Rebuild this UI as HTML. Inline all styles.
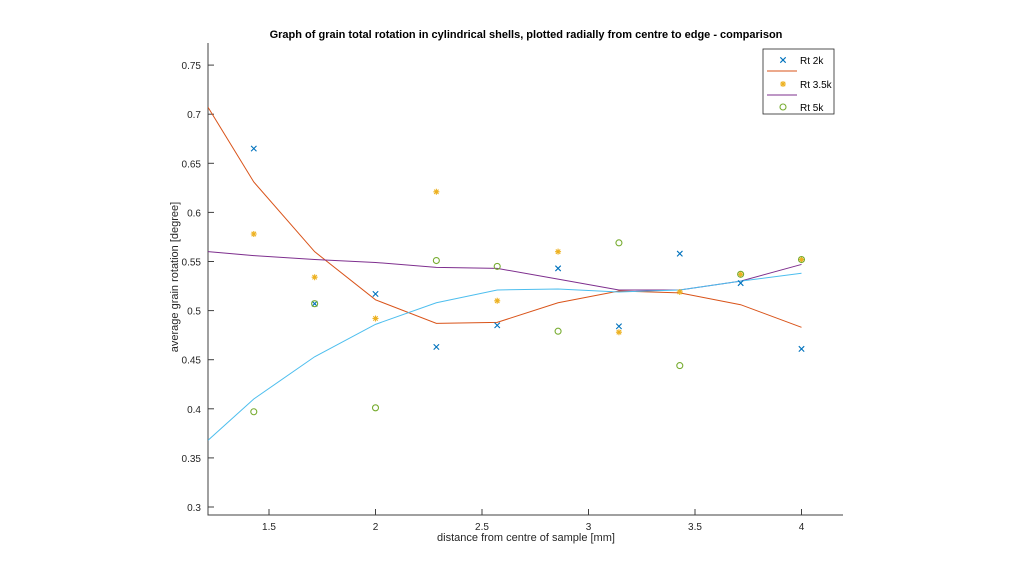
<!DOCTYPE html>
<html><head><meta charset="utf-8"><style>
body{margin:0;background:#fff;}
svg text{font-family:"Liberation Sans",Arial,sans-serif;}
</style></head><body>
<svg id="chart" width="1024" height="576" xmlns="http://www.w3.org/2000/svg">
<rect width="1024" height="576" fill="#fff"/>
<g id="plot"></g>
</svg>
<script>
const xs=[10/7,12/7,2,16/7,18/7,20/7,22/7,24/7,26/7,4];
const rt2k=[0.665,0.507,0.517,0.463,0.485,0.543,0.484,0.558,0.528,0.461];
const rt35k=[0.578,0.534,0.492,0.621,0.510,0.560,0.478,0.519,0.537,0.552];
const rt5k=[0.397,0.507,0.401,0.551,0.545,0.479,0.569,0.444,0.537,0.552];
const lineX=[1.214,10/7,12/7,2,16/7,18/7,20/7,22/7,24/7,26/7,4];
const fitOrange=[0.707,0.631,0.560,0.511,0.487,0.488,0.508,0.520,0.518,0.506,0.483];
const fitPurple=[0.560,0.556,0.552,0.549,0.544,0.543,0.532,0.521,0.521,0.530,0.547];
const fitCyan=[0.368,0.410,0.453,0.486,0.508,0.521,0.522,0.519,0.521,0.530,0.538];
const xTicks=[1.5,2,2.5,3,3.5,4];
const yTicks=[0.3,0.35,0.4,0.45,0.5,0.55,0.6,0.65,0.7,0.75];
const yTickLabels=["0.3","0.35","0.4","0.45","0.5","0.55","0.6","0.65","0.7","0.75"];

const L=208,R=843,T=43,B=515;
const X=v=>269+(v-1.5)*213;
const Y=v=>507-(v-0.3)*982;
const g=document.getElementById('plot');
const NS='http://www.w3.org/2000/svg';
function mk(tag,a,parent){const e=document.createElementNS(NS,tag);for(const k in a)e.setAttribute(k,a[k]);(parent||g).appendChild(e);return e;}

const ax=mk('path',{d:`M${L},${T}V${B}H${R}`,stroke:'#404040',fill:'none','stroke-width':1});


xTicks.forEach(t=>{
  mk('line',{x1:X(t),x2:X(t),y1:B,y2:B-6,stroke:'#404040'});
  const tx=mk('text',{x:X(t),y:B+15,'font-size':10,'text-anchor':'middle',fill:'#262626'});
  tx.textContent=String(t);
  
  
});
yTicks.forEach((t,i)=>{
  mk('line',{x1:L,x2:L+6,y1:Y(t),y2:Y(t),stroke:'#404040'});
  const tx=mk('text',{x:L-7,y:Y(t)+4,'font-size':10,'text-anchor':'end',fill:'#262626'});
  tx.textContent=yTickLabels[i];
  
  
});
const title=mk('text',{x:526,y:38,'font-size':11,'font-weight':'bold','text-anchor':'middle',fill:'#000'});
title.textContent='Graph of grain total rotation in cylindrical shells, plotted radially from centre to edge - comparison';


const xl=mk('text',{x:526,y:541,'font-size':11,'text-anchor':'middle',fill:'#262626'});
xl.textContent='distance from centre of sample [mm]';


const yl=mk('text',{x:0,y:0,'font-size':11,'text-anchor':'middle',fill:'#262626',transform:`translate(178,277) rotate(-90)`});
yl.textContent='average grain rotation [degree]';



const clip=mk('clipPath',{id:'c'});mk('rect',{x:L,y:T,width:R-L,height:B-T},clip);
function line(vals,col,name){
  const d=lineX.map((x,i)=>(i?'L':'M')+X(x)+','+Y(vals[i])).join('');
  const p=mk('path',{d,stroke:col,fill:'none','stroke-width':1,'clip-path':'url(#c)'});
  
  
}
line(fitOrange,'#d95319','fit-line-orange');
line(fitPurple,'#7e2f8e','fit-line-purple');
line(fitCyan,'#4dbeee','fit-line-cyan');

function xm(cx,cy,col,p){mk('path',{d:`M${cx-2.7},${cy-2.7}L${cx+2.7},${cy+2.7}M${cx-2.7},${cy+2.7}L${cx+2.7},${cy-2.7}`,stroke:col,'stroke-width':1.1},p);}
function star(cx,cy,col,p){mk('path',{d:`M${cx-3},${cy}H${cx+3}M${cx},${cy-3}V${cy+3}M${cx-2.2},${cy-2.2}L${cx+2.2},${cy+2.2}M${cx-2.2},${cy+2.2}L${cx+2.2},${cy-2.2}`,stroke:col,'stroke-width':1.1},p);}
function circ(cx,cy,col,p){mk('circle',{cx,cy,r:3,stroke:col,fill:'none','stroke-width':1.1},p);}
function series(vals,fn,col,name){
  const sg=mk('g',{});
  
  
  xs.forEach((x,i)=>fn(X(x),Y(vals[i]),col,sg));
}
series(rt2k,xm,'#0072bd','series-rt-2k');
series(rt35k,star,'#edb120','series-rt-3-5k');
series(rt5k,circ,'#77ac30','series-rt-5k');

const lg=mk('g',{});


mk('rect',{x:763,y:49,width:71,height:65,fill:'#fff',stroke:'#262626','stroke-width':0.8},lg);
xm(783,60,'#0072bd',lg);
mk('line',{x1:767,x2:797,y1:71,y2:71,stroke:'#d95319'},lg);
star(783,84,'#edb120',lg);
mk('line',{x1:767,x2:797,y1:95,y2:95,stroke:'#7e2f8e'},lg);
circ(783,107,'#77ac30',lg);
[['Rt 2k',64],['Rt 3.5k',88],['Rt 5k',111]].forEach(([t,y])=>{
  const e=mk('text',{x:800,y,'font-size':10,fill:'#000'},lg);e.textContent=t;
  
  
});
</script>
</body></html>
